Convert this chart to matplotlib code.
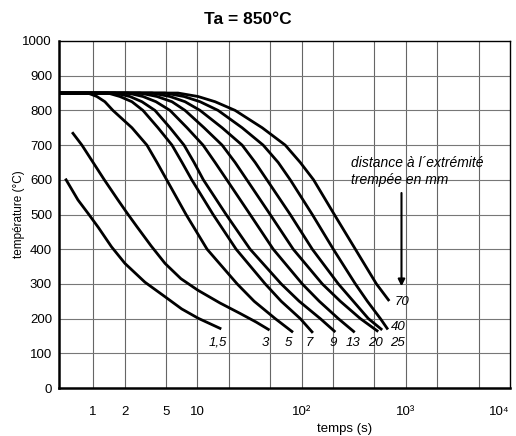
import matplotlib
matplotlib.use("Agg")
import matplotlib.pyplot as plt

plt.rcParams['font.family'] = ['Liberation Sans', 'DejaVu Sans']

# courbes de refroidissement (temps en s, temperature en degC)
t_15 = [0.55, 0.715, 0.895, 1.12, 1.50, 2.02, 3.14, 4.9, 7.07, 10.2, 16.5]
T_15 = [600, 542, 503, 463, 407, 359, 305, 263, 228, 201, 172]

t_3 = [0.64, 0.78, 1.28, 1.73, 2.13, 2.63, 3.59, 4.9, 6.96, 10.1, 16.5, 25.7, 36.7, 48]
T_3 = [734, 700, 600, 542, 503, 465, 410, 359, 315, 282, 245, 215, 190, 169]

T_sig = [850, 850, 840, 825, 800, 750, 700, 650, 600, 500, 400, 300, 250, 200]
t_5 = [0.47, 0.889, 1.086, 1.296, 1.547, 2.356, 3.28, 4.10, 5.08, 7.79, 12.4, 24.1, 35.1, 55.9, 80.8]
t_7 = [0.47, 1.384, 1.806, 2.356, 3.006, 4.188, 5.71, 7.13, 8.84, 14.16, 23.56, 44.8, 63.8, 97.2, 125.9]
t_9 = [0.47, 1.617, 2.254, 2.94, 3.92, 5.465, 7.45, 9.30, 11.42, 18.88, 32.1, 63.8, 95.0, 151.3, 206.3]
t_13 = [0.47, 2.157, 3.006, 4.008, 5.465, 7.96, 11.34, 14.8, 19.17, 32.1, 53.5, 101.6, 148.0, 225.4, 316.2]
t_20 = [0.47, 2.812, 4.10, 5.71, 7.62, 11.6, 17.28, 23.04, 29.85, 50.0, 83.2, 158.1, 235.6, 366.7, 530.9]
t_25 = [0.47, 3.667, 5.465, 7.62, 10.62, 17.28, 26.9, 35.9, 46.5, 77.9, 126.8, 225.4, 314.1, 437.8, 580]
t_40 = [0.47, 4.89, 7.45, 10.62, 15.81, 26.9, 42.8, 59.7, 77.9, 126.8, 201.8, 328.4, 428.2, 571.1, 662.4]
T_end = {'5': 163, '7': 162, '9': 164, '13': 163, '20': 165, '25': 170, '40': 172}

t_70 = [0.47, 6.52, 10.16, 14.8, 23.04, 41.9, 69.7, 97.2, 130.4, 206.3, 328.4, 522.9, 681.9]
T_70 = [850, 850, 840, 825, 800, 750, 700, 650, 600, 500, 400, 300, 254]

labels = ['1,5', '3', '5', '7', '9', '13', '20', '25']
label_t = [15.7, 44.6, 74, 119, 203, 312, 509, 827]
label_T = 130

fig = plt.figure(figsize=(5.16, 4.36), dpi=100)
ax = fig.add_axes([0.1143, 0.110, 0.874, 0.796])

ax.plot(t_15, T_15, color='black', lw=2)
ax.plot(t_3, T_3, color='black', lw=2)
for key, tt in [('5', t_5), ('7', t_7), ('9', t_9), ('13', t_13),
                ('20', t_20), ('25', t_25), ('40', t_40)]:
    ax.plot(tt, T_sig + [T_end[key]], color='black', lw=2)
ax.plot(t_70, T_70, color='black', lw=2)

ax.set_xscale('log')
ax.set_xlim(0.47, 1e4)
ax.set_ylim(0, 1000)

xgrid = [1, 2, 5, 10, 20, 50, 100, 200, 500, 1000, 2000, 5000]
for xv in xgrid:
    ax.axvline(xv, color='#666666', lw=0.8, zorder=0)
for yv in range(100, 1000, 100):
    ax.axhline(yv, color='#777777', lw=0.8, zorder=0)

ax.set_xticks([1, 2, 5, 10, 100, 1000, 10000])
ax.set_xticklabels(['1', '2', '5', '10', '10²', '10³', '10⁴'])
ax.xaxis.set_minor_locator(matplotlib.ticker.NullLocator())
ax.get_xticklabels()[-1].set_ha('right')
ax.set_yticks(range(0, 1001, 100))
ax.tick_params(axis='x', length=0, pad=13, labelsize=9.5)
ax.tick_params(axis='y', length=0, pad=5, labelsize=9.5)

for s in ['left', 'bottom']:
    ax.spines[s].set_linewidth(1.8)
for s in ['top', 'right']:
    ax.spines[s].set_linewidth(1.0)

ax.set_ylabel('température (°C)', fontsize=8.5)
ax.yaxis.set_label_coords(-0.075, 0.5)
ax.set_xlabel('temps (s)', fontsize=9.5)
ax.xaxis.set_label_coords(0.634, -0.1)

for lab, lt in zip(labels, label_t):
    ax.text(lt, label_T, lab, style='italic', fontsize=9.5, ha='center', va='center')
ax.text(855, 177, '40', style='italic', fontsize=9.5, ha='center', va='center')
ax.text(920, 249, '70', style='italic', fontsize=9.5, ha='center', va='center')

ax.text(300, 648, 'distance à l´extrémité', style='italic', fontsize=10,
        ha='left', va='center')
ax.text(300, 600, 'trempée en mm', style='italic', fontsize=10,
        ha='left', va='center')
ax.annotate('', xy=(910, 285), xytext=(910, 570),
            arrowprops=dict(arrowstyle='-|>', color='black', lw=1.5,
                            mutation_scale=10))

fig.text(0.48, 0.955, 'Ta = 850°C', ha='center', va='center',
         fontsize=12.5, fontweight='bold')

fig.savefig('out.png', dpi=100)
